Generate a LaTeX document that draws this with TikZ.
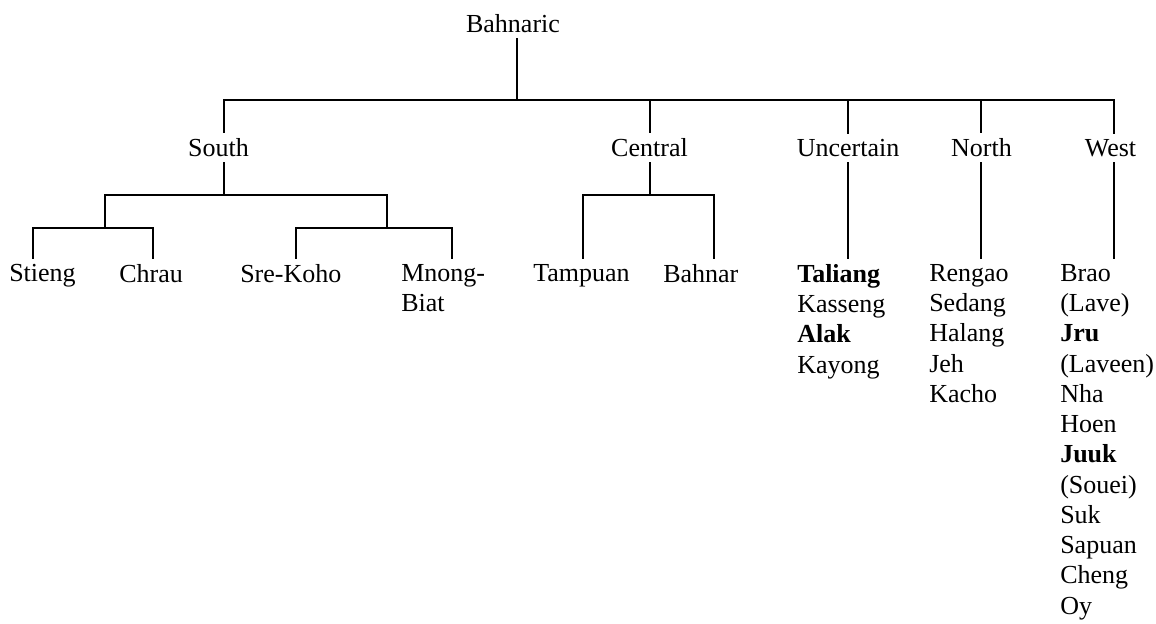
\documentclass[tikz,border=0pt]{standalone}
\usepackage{fontspec}
\setmainfont{Liberation Serif}
\begin{document}
\begin{tikzpicture}[x=0.75pt,y=-0.75pt,
  lbl/.style={inner xsep=0pt, inner ysep=4.5pt, font=\fontsize{19.5}{22.7}\selectfont},
  leaf/.style={lbl, anchor=north west, align=left},
  br/.style={line width=1.4pt, line cap=rect}]
\useasboundingbox (0,0) rectangle (1156,624);
% root and level 2
\node[lbl, anchor=base] (bah) at (513,32.5) {Bahnaric};
\node[lbl, anchor=base] (south) at (218.5,156.5) {South};
\node[lbl, anchor=base] (central) at (649.5,156.5) {Central};
\node[lbl, anchor=base] (unc) at (848,156.5) {Uncertain};
\node[lbl, anchor=base] (north) at (981.5,156.5) {North};
\node[lbl, anchor=base] (west) at (1110.5,156.5) {West};
% leaves
\node[leaf] (stieng) at (9,258) {Stieng};
\node[leaf] (chrau) at (119,258) {Chrau};
\node[leaf] (srekoho) at (240,258) {Sre-Koho};
\node[leaf] (mnong) at (401,258) {Mnong-\\Biat};
\node[leaf] (tampuan) at (533,258) {Tampuan};
\node[leaf] (bahnar) at (663,258) {Bahnar};
\node[leaf] (uncl) at (797,258) {\textbf{Taliang}\\Kasseng\\\textbf{Alak}\\Kayong};
\node[leaf] (northl) at (929,258) {Rengao\\Sedang\\Halang\\Jeh\\Kacho};
\node[leaf] (westl) at (1060,258) {Brao\\(Lave)\\\textbf{Jru}\\(Laveen)\\Nha\\Hoen\\\textbf{Juuk}\\(Souei)\\Suk\\Sapuan\\Cheng\\Oy};
% junction coordinates
\coordinate (r0) at (517,100);
\coordinate (cS) at (224,100);
\coordinate (cC) at (650,100);
\coordinate (cU) at (848,100);
\coordinate (cN) at (981,100);
\coordinate (cW) at (1114,100);
\coordinate (s0) at (224,195);
\coordinate (sL) at (105,195);
\coordinate (sR) at (387,195);
\coordinate (sLL) at (33,228);
\coordinate (sLR) at (153,228);
\coordinate (sRL) at (296,228);
\coordinate (sRR) at (452,228);
\coordinate (c0) at (650,195);
\coordinate (cL) at (583,195);
\coordinate (cR) at (714,195);
% root connectors
\draw[br] (r0 |- bah.south) -- (r0);
\draw[br] (cS) -- (cW);
\draw[br] (cS) -- (cS |- south.north);
\draw[br] (cC) -- (cC |- central.north);
\draw[br] (cU) -- (cU |- unc.north);
\draw[br] (cN) -- (cN |- north.north);
\draw[br] (cW) -- (cW |- west.north);
% South
\draw[br] (s0 |- south.south) -- (s0);
\draw[br] (sL) -- (sR);
\draw[br] (sL) -- (sL |- sLL);
\draw[br] (sR) -- (sR |- sRL);
\draw[br] (sLL) -- (sLR);
\draw[br] (sRL) -- (sRR);
\draw[br] (sLL) -- (sLL |- stieng.north);
\draw[br] (sLR) -- (sLR |- chrau.north);
\draw[br] (sRL) -- (sRL |- srekoho.north);
\draw[br] (sRR) -- (sRR |- mnong.north);
% Central
\draw[br] (c0 |- central.south) -- (c0);
\draw[br] (cL) -- (cR);
\draw[br] (cL) -- (cL |- tampuan.north);
\draw[br] (cR) -- (cR |- bahnar.north);
% Uncertain, North, West
\draw[br] (cU |- unc.south) -- (cU |- uncl.north);
\draw[br] (cN |- north.south) -- (cN |- northl.north);
\draw[br] (cW |- west.south) -- (cW |- westl.north);
\end{tikzpicture}
\end{document}
